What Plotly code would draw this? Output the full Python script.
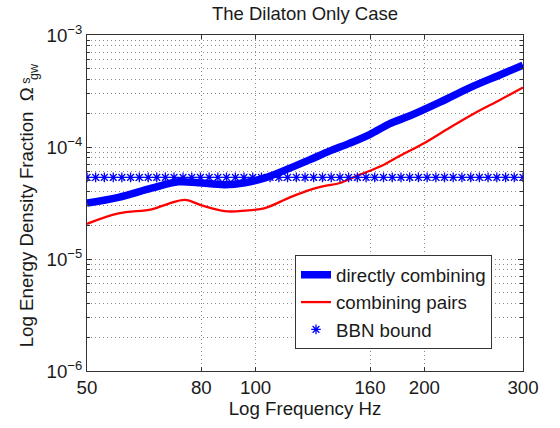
import plotly.graph_objects as go

# ---- data ----
direct_freq = [50, 56.9, 65.2, 72.8, 79.0, 88.1, 95.7, 103.9, 115.1, 125.0, 135.7,
               147.3, 160.0, 173.6, 188.5, 213.3, 241.3, 272.8, 300]
direct_vals = [3.16e-5, 3.55e-5, 4.29e-5, 4.89e-5, 4.80e-5, 4.61e-5, 4.80e-5, 5.30e-5,
               6.48e-5, 7.71e-5, 9.23e-5, 1.083e-4, 1.298e-4, 1.617e-4, 1.898e-4,
               2.512e-4, 3.393e-4, 4.40e-4, 5.37e-4]

pairs_freq = [50, 56.9, 65.2, 69.8, 74.8, 80.1, 88.1, 95.7, 103.9, 115.1, 125.0, 133.0,
              141.4, 153.5, 166.7, 180.9, 200.5, 222.2, 246.3, 272.8, 300]
pairs_vals = [2.06e-5, 2.55e-5, 2.78e-5, 3.11e-5, 3.37e-5, 3.01e-5, 2.67e-5, 2.70e-5,
              2.85e-5, 3.55e-5, 4.14e-5, 4.49e-5, 4.77e-5, 5.67e-5, 6.70e-5, 8.35e-5,
              1.094e-4, 1.493e-4, 2.014e-4, 2.63e-4, 3.40e-4]

bbn_freq = [50.0, 51.8, 53.7, 55.7, 57.7, 59.8, 62.0, 64.3, 66.6, 69.0, 71.5, 74.2,
            76.9, 79.7, 82.6, 85.6, 88.7, 92.0, 95.3, 98.8, 102.4, 106.1, 110.0, 114.0,
            118.2, 122.5, 126.9, 131.6, 136.4, 141.4, 146.5, 151.9, 157.4, 163.1, 169.1,
            175.3, 181.7, 188.3, 195.2, 202.3, 209.7, 217.3, 225.2, 233.4, 242.0, 250.8,
            259.9, 269.4, 279.3, 289.4, 300.0]
bbn_value = 5.35e-5
bbn_vals = [bbn_value for _ in bbn_freq]

x_ticks = [50, 80, 100, 160, 200, 300]
x_ticktext = ["50", "80", "100", "160", "200", "300"]
y_ticks = [1e-6, 1e-5, 1e-4, 1e-3]
y_ticktext = ["10<sup>\u22126</sup>", "10<sup>\u22125</sup>", "10<sup>\u22124</sup>", "10<sup>\u22123</sup>"]
y_minor = [m * 10.0 ** e for e in (-6, -5, -4) for m in range(2, 10)]

title_text = "The Dilaton Only Case"
x_title = "Log Frequency Hz"
y_title = "Log Energy Density Fraction\u00a0\u00a0\u03a9"

FONT = "Liberation Sans, Arial, Helvetica, sans-serif"
FS = 18.7
TXT = "#1a1a1a"
GRID = "#8a8a8a"
AXC = "#333333"

fig = go.Figure()
fig.add_trace(go.Scatter(x=direct_freq, y=direct_vals, mode="lines", name="directly combining",
                         line=dict(color="#0000ff", width=7.5, shape="spline", smoothing=1.0)))
fig.add_trace(go.Scatter(x=pairs_freq, y=pairs_vals, mode="lines", name="combining pairs",
                         line=dict(color="#ff0000", width=2.3, shape="spline", smoothing=1.0)))
fig.add_trace(go.Scatter(x=bbn_freq, y=bbn_vals, mode="markers", name="BBN bound",
                         marker=dict(symbol="asterisk", size=8, color="#0000ff",
                                     line=dict(color="#0000ff", width=1.3))))

W, H = 560, 428
L, R, T, B = 87, 37, 35, 48
pw, ph = W - L - R, H - T - B

def px_to_paper_x(px):
    return (px - L) / pw

def px_to_paper_y(py):
    return 1 - (py - T) / ph

fig.update_layout(
    width=W, height=H,
    margin=dict(l=L, r=R, t=T, b=B, pad=0),
    paper_bgcolor="white", plot_bgcolor="white",
    font=dict(family=FONT, size=FS, color=TXT),
    title=dict(text=title_text, x=0.5, xref="paper", xanchor="center",
               y=1 - 14 / H, yref="container", yanchor="middle",
               font=dict(size=18.5, color=TXT)),
    showlegend=True,
    legend=dict(x=px_to_paper_x(295), y=px_to_paper_y(261), xanchor="left", yanchor="top",
                bgcolor="white", bordercolor=AXC, borderwidth=1,
                entrywidth=177, entrywidthmode="pixels",
                font=dict(size=FS, color=TXT), tracegroupgap=0),
    xaxis=dict(type="log", range=[1.69897, 2.4771213],
               tickmode="array", tickvals=x_ticks, ticktext=x_ticktext,
               ticks="inside", ticklen=4, tickcolor=AXC,
               showline=True, linecolor=AXC, linewidth=1, mirror="ticks",
               showgrid=True, gridcolor=GRID, gridwidth=1, griddash="1px,3px",
               zeroline=False, tickfont=dict(size=FS, color=TXT),
               title=dict(text=x_title, font=dict(size=FS, color=TXT), standoff=4)),
    yaxis=dict(type="log", range=[-6, -3],
               tickmode="array", tickvals=y_ticks, ticktext=y_ticktext,
               ticks="inside", ticklen=5, tickcolor=AXC,
               showline=True, linecolor=AXC, linewidth=1, mirror="ticks",
               showgrid=True, gridcolor=GRID, gridwidth=1, griddash="1px,3px",
               zeroline=False, tickfont=dict(size=FS, color=TXT),
               minor=dict(tickmode="array", tickvals=y_minor, ticks="inside", ticklen=3,
                          tickcolor=AXC, showgrid=True, gridcolor=GRID, gridwidth=1,
                          griddash="1px,3px")),
)

fig.add_annotation(text=y_title, textangle=-90, xref="paper", yref="paper",
                   x=px_to_paper_x(26), y=px_to_paper_y(86.7), xanchor="center", yanchor="top",
                   showarrow=False, font=dict(size=FS, color=TXT))
fig.add_annotation(text="s", textangle=-90, xref="paper", yref="paper",
                   x=px_to_paper_x(26), y=px_to_paper_y(82), xanchor="center", yanchor="middle",
                   showarrow=False, font=dict(size=12.5, color=TXT))
fig.add_annotation(text="gw", textangle=-90, xref="paper", yref="paper",
                   x=px_to_paper_x(34), y=px_to_paper_y(73), xanchor="center", yanchor="middle",
                   showarrow=False, font=dict(size=12.5, color=TXT))

fig.write_html("out.html")
